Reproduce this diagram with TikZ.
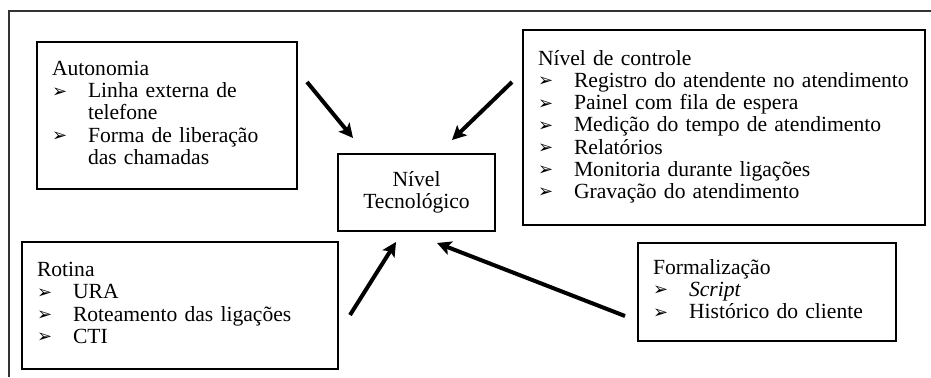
\documentclass[tikz,border=0pt]{standalone}
\usepackage{fontspec}
\setmainfont{Liberation Serif}
\newfontfamily\bulletfont{DejaVu Sans}
\usepackage{tikz}
\usetikzlibrary{arrows.meta}
\tikzstyle{arrow} = [-{Stealth[length=7pt,width=7pt,inset=1.5pt]},line width=2pt]
\tikzstyle{box} = [draw,line width=0.6pt,inner xsep=7.5pt,align=left,font=\fontsize{10.8pt}{11.1pt}\selectfont]
\newcommand\bl{\raisebox{0.3pt}{\bulletfont\fontsize{9pt}{9pt}\selectfont ➢}}
\newenvironment{boxlist}[1]{\begin{tabular}{@{}p{18pt}@{}l@{}}\multicolumn{2}{@{}l@{}}{#1}\\}{\end{tabular}}

\begin{document}
\begin{tikzpicture}[x=0.5pt,y=-0.5pt]
          \useasboundingbox (0,0) rectangle (931,377);
          \draw[line width=0.7pt,black!80] (9,377) -- (9,11) -- (931,11);

          \node[box,text width=115pt,minimum height=73.5pt] (auto) at (167,115.5)
            {\begin{boxlist}{Autonomia}
               \bl & Linha externa de\\ & telefone\\
               \bl & Forma de liberação\\ & das chamadas
             \end{boxlist}};
          \node[box,text width=186pt,minimum height=97.5pt] (ctrl) at (724,127.5)
            {\begin{boxlist}{Nível de controle}
               \bl & Registro do atendente no atendimento\\
               \bl & Painel com fila de espera\\
               \bl & Medição do tempo de atendimento\\
               \bl & Relatórios\\
               \bl & Monitoria durante ligações\\
               \bl & Gravação do atendimento
             \end{boxlist}};
          \node[box,align=center,minimum width=78.5pt,minimum height=38.5pt] (tec) at (416.5,192.5)
            {Nível\\ Tecnológico};
          \node[box,text width=143pt,minimum height=63.5pt] (rot) at (180,305.5)
            {\begin{boxlist}{Rotina}
               \bl & URA\\
               \bl & Roteamento das ligações\\
               \bl & CTI
             \end{boxlist}};
          \node[box,text width=114pt,minimum height=49pt] (form) at (767,292)
            {\begin{boxlist}{Formalização}
               \bl & \textit{Script}\\
               \bl & Histórico do cliente
             \end{boxlist}};

          \coordinate (autoout) at (307,82);
          \coordinate (autoin) at (353,138);
          \coordinate (ctrlout) at (512,82);
          \coordinate (ctrlin) at (452,140);
          \coordinate (rotout) at (350,315);
          \coordinate (rotin) at (396,242);
          \coordinate (formout) at (625,316);
          \coordinate (formin) at (437,243);

          \draw[arrow] (autoout) -- (autoin);
          \draw[arrow] (ctrlout) -- (ctrlin);
          \draw[arrow] (rotout) -- (rotin);
          \draw[arrow] (formout) -- (formin);
\end{tikzpicture}
\end{document}
